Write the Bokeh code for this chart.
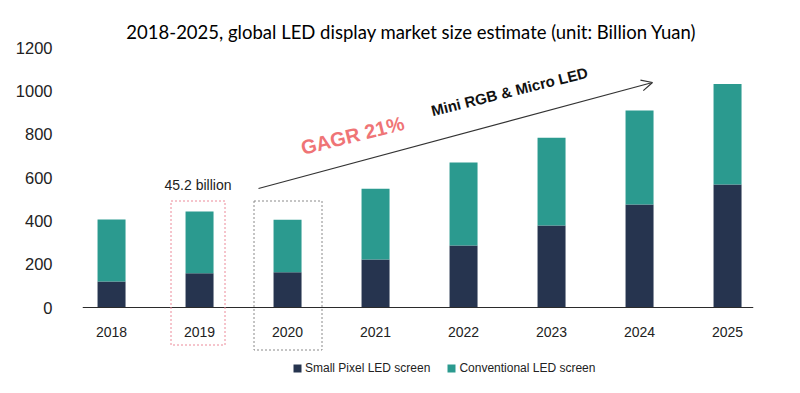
from bokeh.plotting import figure
from bokeh.models import (Range1d, FixedTicker, Label, Arrow, OpenHead,
                          BoxAnnotation, ColumnDataSource)
from bokeh.embed import file_html
from bokeh.resources import INLINE

# ---- data ----
years = ["2018", "2019", "2020", "2021", "2022", "2023", "2024", "2025"]
small_pixel = [120, 158, 163, 221, 286, 378, 475, 568]
conventional = [286, 285, 242, 327, 383, 405, 434, 464]
y_ticks = [0, 200, 400, 600, 800, 1000, 1200]
series_names = ["Small Pixel LED screen", "Conventional LED screen"]
title_text = "2018-2025, global LED display market size estimate (unit: Billion Yuan)"

DARK = "#26344f"
TEAL = "#2b9a8f"

# ---- layout helpers (image pixel -> data coords) ----
W, H = 784, 377
LEFT = 82
FRAME_RIGHT = 753
RIGHT = W - FRAME_RIGHT
FRAME_W = FRAME_RIGHT - LEFT
PX_PER_CAT = 88.0
X0 = -0.33
X1 = X0 + FRAME_W / PX_PER_CAT
PX_PER_UNIT = 260.0 / 1200.0
ZERO_Y = 307.0
Y1 = ZERO_Y / PX_PER_UNIT
Y0 = -(H - ZERO_Y) / PX_PER_UNIT


def ix(px):
    return X0 + (px - LEFT) / PX_PER_CAT


def iy(py):
    return (ZERO_Y - py) / PX_PER_UNIT


src = ColumnDataSource(dict(x=list(range(len(years))), small=small_pixel,
                            conv=conventional))

p = figure(width=W, height=H, output_backend="svg", toolbar_location=None,
           x_range=Range1d(X0, X1), y_range=Range1d(Y0, Y1),
           min_border_left=LEFT, min_border_right=RIGHT,
           min_border_top=0, min_border_bottom=0)
p.outline_line_color = None
p.grid.visible = False
p.background_fill_color = "white"
p.border_fill_color = "white"

p.vbar_stack(["small", "conv"], x="x", width=28 / PX_PER_CAT, source=src,
             color=[DARK, TEAL], line_color=None, legend_label=series_names)

# x axis at y = 0
xa = p.xaxis[0]
xa.fixed_location = 0
xa.ticker = FixedTicker(ticks=list(range(len(years))))
xa.major_label_overrides = {i: y for i, y in enumerate(years)}
xa.axis_line_color = "#2b2b2b"
xa.axis_line_width = 1.2
xa.major_tick_line_color = None
xa.minor_tick_line_color = None
xa.major_label_standoff = 13
xa.major_label_text_font = "Liberation Sans"
xa.major_label_text_font_size = "14px"
xa.major_label_text_color = "#222222"

ya = p.yaxis[0]
ya.ticker = FixedTicker(ticks=y_ticks)
ya.axis_line_color = None
ya.major_tick_line_color = None
ya.minor_tick_line_color = None
ya.major_label_standoff = 24
ya.major_label_text_font = "Liberation Sans"
ya.major_label_text_font_size = "16.5px"
ya.major_label_text_color = "#222222"

# title
p.add_layout(Label(x=ix(411), y=iy(31), text=title_text, text_align="center",
                   text_baseline="middle", text_font="Lato",
                   text_font_size="18.5px", text_color="#000000"))

# dotted boxes around 2019 and 2020
p.add_layout(BoxAnnotation(left=ix(170.5), right=ix(224.5), top=iy(200.5),
                           bottom=iy(344.5), fill_alpha=0, line_color="#ec8a99",
                           line_alpha=1.0, line_dash="2 2", line_width=1))
p.add_layout(BoxAnnotation(left=ix(253.5), right=ix(321.5), top=iy(200.5),
                           bottom=iy(349.5), fill_alpha=0, line_color="#8a8a8a",
                           line_alpha=1.0, line_dash="2 2", line_width=1))

p.add_layout(Label(x=ix(197.5), y=iy(184), text="45.2 billion",
                   text_align="center", text_baseline="middle",
                   text_font="Liberation Sans", text_font_size="14px",
                   text_color="#222222"))

# growth arrow
p.add_layout(Arrow(x_start=ix(258), y_start=iy(188), x_end=ix(652),
                   y_end=iy(82), line_color="#333333", line_width=1.2,
                   end=OpenHead(size=11, line_color="#333333", line_width=1.2)))

p.add_layout(Label(x=ix(352), y=iy(135), text="GAGR 21%", angle=14,
                   angle_units="deg", text_align="center",
                   text_baseline="middle", text_font="Liberation Sans",
                   text_font_style="bold", text_font_size="20px",
                   text_color="#ef7476"))
p.add_layout(Label(x=ix(509), y=iy(91), text="Mini RGB & Micro LED", angle=14,
                   angle_units="deg", text_align="center",
                   text_baseline="middle", text_font="Liberation Sans",
                   text_font_style="bold", text_font_size="15px",
                   text_color="#111111"))

# legend
lg = p.legend[0]
lg.orientation = "horizontal"
lg.location = (292 - LEFT, H - 375)
lg.glyph_width = 10
lg.glyph_height = 10
lg.label_height = 12
lg.label_standoff = 3
lg.spacing = 16
lg.padding = 0
lg.margin = 0
lg.border_line_color = None
lg.background_fill_alpha = 0
lg.label_text_font = "Liberation Sans"
lg.label_text_font_size = "12px"
lg.label_text_color = "#222222"

open("out.html", "w").write(file_html(p, INLINE))
